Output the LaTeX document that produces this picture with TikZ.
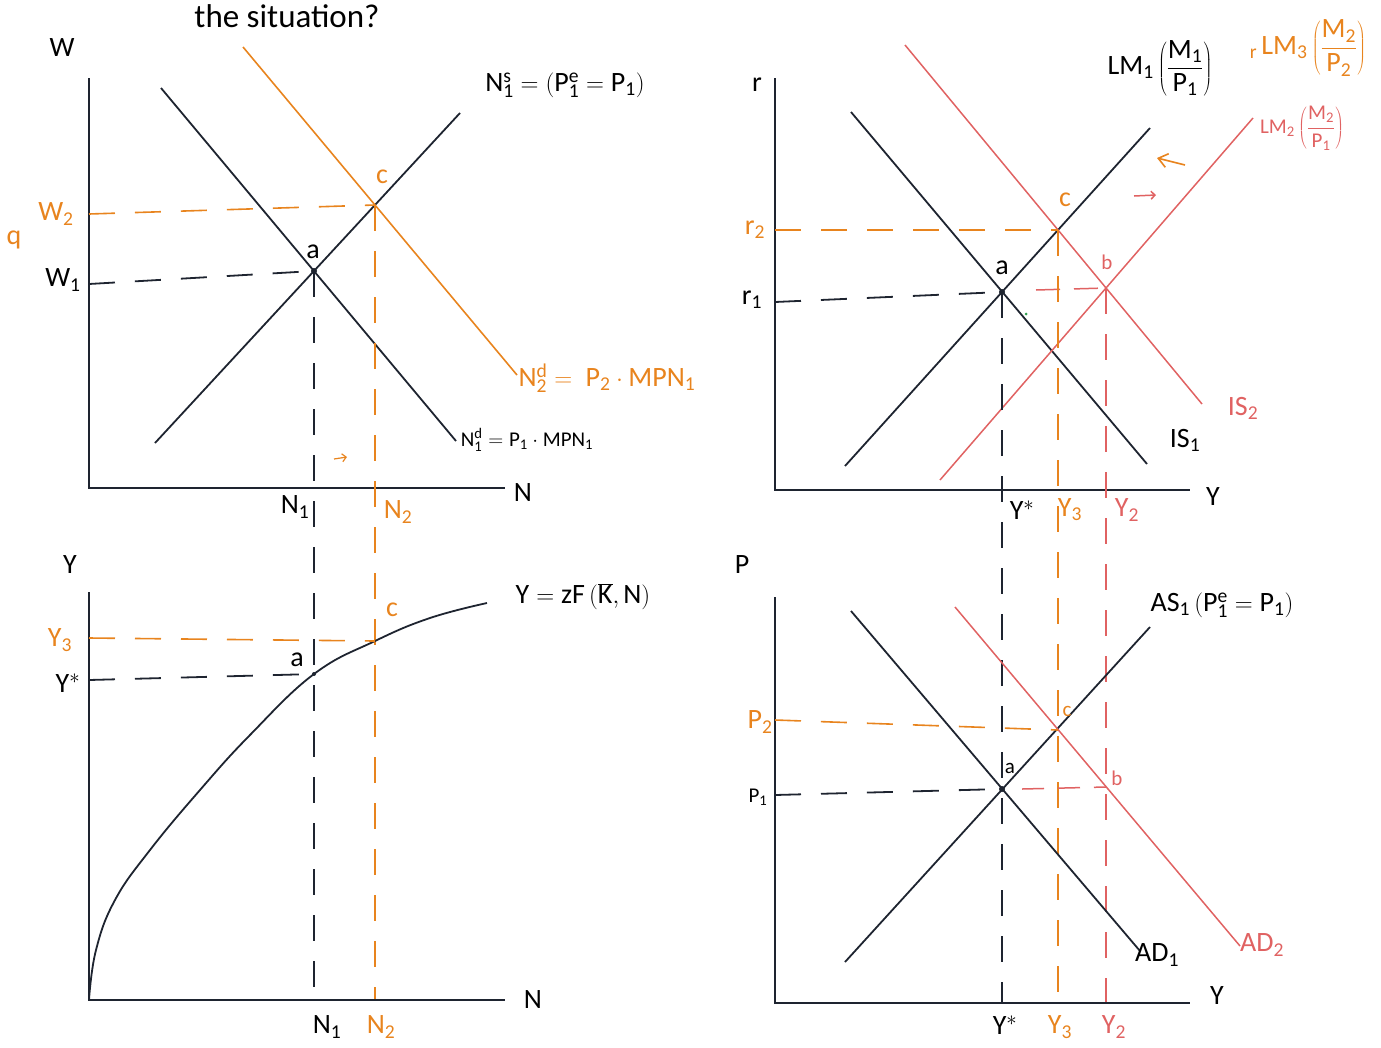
\documentclass[tikz,border=0pt]{standalone}
\usepackage{fontspec}
\setmainfont{Carlito}
\setsansfont{Carlito}
\usetikzlibrary{arrows.meta}
\definecolor{ink}{HTML}{1E2430}
\definecolor{org}{HTML}{E8841E}
\definecolor{rd}{HTML}{E06262}
\definecolor{grn}{HTML}{2E9E4E}
\newcommand{\hw}[1]{\ensuremath{\mathsf{#1}}}
\begin{document}
\begin{tikzpicture}[x=1pt,y=-1pt,
  axis/.style={ink,line width=2.2pt},
  bline/.style={ink,line width=1.8pt},
  oline/.style={org,line width=1.6pt},
  rline/.style={rd,line width=1.5pt},
  dsh/.style={dash pattern=on 26pt off 20pt},
  lab/.style={font=\fontsize{28}{30}\selectfont,inner sep=0pt},
  slab/.style={font=\fontsize{21}{23}\selectfont,inner sep=0pt},
  pt/.style={circle,fill=ink,inner sep=0pt,minimum size=6pt}]
\useasboundingbox (0,0) rectangle (1381,1047);

\node[font=\fontsize{33}{36}\selectfont] (title) at (287,16) {the situation?};

% ===== top-left: labour market =====
\coordinate (TLo) at (89,488); \coordinate (TLy) at (89,78); \coordinate (TLx) at (505,488);
\draw[axis] (TLy) -- (TLo) -- (TLx);
\coordinate (a1) at (314,271); \coordinate (c1) at (375,205);
\coordinate (ns1s) at (155,443); \coordinate (ns1e) at (460,113);
\coordinate (nd1s) at (161,88); \coordinate (nd1e) at (456,441);
\coordinate (nd2s) at (243,47); \coordinate (nd2e) at (517,375);
\draw[bline] (ns1s) -- (ns1e);
\draw[bline] (nd1s) -- (nd1e);
\draw[oline] (nd2s) -- (nd2e);
\coordinate (w1) at (89,284); \coordinate (w2) at (89,214);
\draw[bline,dsh] (w1) -- (a1);
\draw[oline,dsh] (w2) -- (c1);
\coordinate (n1b) at (314,1000); \coordinate (n2b) at (375,1000);
\draw[bline,dsh] (a1) -- (n1b);
\draw[oline,dsh] (c1) -- (n2b);
\node[pt] (pa1) at (a1) {};
\node[lab] (lW) at (62,48) {\hw{W}};
\node[lab,org] (lW2) at (56,214) {\hw{W_2}};
\node[lab,org] (lq) at (14,240) {\hw{q}};
\node[lab] (lW1) at (63,280) {\hw{W_1}};
\node[lab] (la1) at (313,252) {\hw{a}};
\node[lab,org] (lc1) at (382,177) {\hw{c}};
\node[lab] (lNs) at (565,85) {\hw{N^s_1 = \left(P^e_1 = P_1\right)}};
\node[lab,org] (lNd2) at (607,378) {\hw{N^d_2 = \ P_2\cdot MPN_1}};
\node[slab] (lNd1) at (527,440) {\hw{N^d_1 = P_1\cdot MPN_1}};
\node[lab] (lNx) at (523,493) {\hw{N}};
\node[lab] (lN1t) at (295,507) {\hw{N_1}};
\node[lab,org] (lN2t) at (398,512) {\hw{N_2}};
\coordinate (sa1) at (334,459); \coordinate (sa2) at (347,457);
\draw[org,line width=1.2pt,-{Straight Barb[length=4pt]}] (sa1) -- (sa2);

% ===== bottom-left: production function =====
\coordinate (BLo) at (89,1000); \coordinate (BLy) at (89,592); \coordinate (BLx) at (505,1000);
\draw[axis] (BLy) -- (BLo) -- (BLx);
\coordinate (a2) at (314,674); \coordinate (c2) at (375,641);
\draw[bline] plot[smooth,tension=0.7] coordinates {(89,1000) (96,950) (115,900) (150,850) (200,790) (250,735) (314,674) (375,641) (430,618) (487,603)};
\coordinate (ystar) at (89,680); \coordinate (y3) at (89,638);
\draw[bline,dsh] (ystar) -- (a2);
\draw[oline,dsh] (y3) -- (c2);
\node[pt,minimum size=4pt] (pa2) at (a2) {};
\node[lab] (lY) at (70,565) {\hw{Y}};
\node[lab,org] (lY3) at (60,640) {\hw{Y_3}};
\node[lab] (lYs) at (68,683) {\hw{Y^*}};
\node[lab] (la2) at (297,660) {\hw{a}};
\node[lab,org] (lc2) at (392,610) {\hw{c}};
\node[lab] (lYf) at (583,597) {\hw{Y = zF\left(\overline{K}, N\right)}};
\node[lab] (lNb) at (533,1000) {\hw{N}};
\node[lab] (lN1b) at (327,1027) {\hw{N_1}};
\node[lab,org] (lN2b) at (381,1027) {\hw{N_2}};

% ===== top-right: IS-LM =====
\coordinate (TRo) at (775,490); \coordinate (TRy) at (775,78); \coordinate (TRx) at (1190,490);
\draw[axis] (TRy) -- (TRo) -- (TRx);
\coordinate (a3) at (1002,292); \coordinate (c3) at (1058,230); \coordinate (b3) at (1106,288);
\coordinate (is1s) at (851,112); \coordinate (is1e) at (1147,464);
\coordinate (lm1s) at (845,466); \coordinate (lm1e) at (1150,128);
\coordinate (is2s) at (905,45); \coordinate (is2e) at (1202,404);
\coordinate (lm2s) at (940,480); \coordinate (lm2e) at (1253,118);
\draw[bline] (is1s) -- (is1e);
\draw[bline] (lm1s) -- (lm1e);
\draw[rline] (is2s) -- (is2e);
\draw[rline] (lm2s) -- (lm2e);
\coordinate (r2) at (775,230); \coordinate (r1) at (775,302);
\draw[oline,dsh] (r2) -- (c3);
\draw[bline,dsh] (r1) -- (a3);
\coordinate (ab3) at (1036,290);
\draw[rline,dash pattern=on 24pt off 14pt] (ab3) -- (b3);
\coordinate (a3b) at (1002,1003); \coordinate (c3b) at (1058,1003); \coordinate (b3b) at (1106,1003);
\draw[bline,dsh] (a3) -- (a3b);
\draw[oline,dsh] (c3) -- (c3b);
\draw[rline,dsh] (b3) -- (b3b);
\node[pt] (pa3) at (a3) {};
\node[circle,fill=grn,inner sep=0pt,minimum size=3pt] (gdot) at (1026,314) {};
\node[lab] (lr) at (757,85) {\hw{r}};
\node[lab,org] (lr2) at (755,230) {\hw{r_2}};
\node[lab] (lr1) at (752,300) {\hw{r_1}};
\node[lab] (la3) at (1002,268) {\hw{a}};
\node[lab,org] (lc3) at (1065,200) {\hw{c}};
\node[slab,rd] (lb3) at (1107,262) {\hw{b}};
\node[lab] (lLM1) at (1160,68) {\hw{LM_1\left(\displaystyle\frac{M_1}{P_1}\right)}};
\node[lab,org] (lLM3) at (1308,48) {\hw{_{r}\, LM_3\left(\displaystyle\frac{M_2}{P_2}\right)}};
\node[slab,rd] (lLM2) at (1302,128) {\hw{LM_2\left(\displaystyle\frac{M_2}{P_1}\right)}};
\coordinate (oa1) at (1185,165); \coordinate (oa2) at (1157,158);
\draw[org,line width=1.6pt,-{Straight Barb[length=9pt,width=14pt]}] (oa1) -- (oa2);
\coordinate (ra1) at (1134,196); \coordinate (ra2) at (1156,195);
\draw[rd,line width=1.5pt,-{Straight Barb[length=4pt]}] (ra1) -- (ra2);
\node[lab,rd] (lIS2) at (1243,408) {\hw{IS_2}};
\node[lab] (lIS1) at (1185,440) {\hw{IS_1}};
\node[lab] (lYr) at (1213,497) {\hw{Y}};
\node[lab] (lYst) at (1022,510) {\hw{Y^*}};
\node[lab,org] (lY3t) at (1070,510) {\hw{Y_3}};
\node[lab,rd] (lY2t) at (1127,510) {\hw{Y_2}};

% ===== bottom-right: AS-AD =====
\coordinate (BRo) at (775,1003); \coordinate (BRy) at (775,597); \coordinate (BRx) at (1190,1003);
\draw[axis] (BRy) -- (BRo) -- (BRx);
\coordinate (a4) at (1002,789); \coordinate (c4) at (1058,730); \coordinate (b4) at (1106,787);
\coordinate (ad1s) at (851,611); \coordinate (ad1e) at (1140,951);
\coordinate (as1s) at (845,962); \coordinate (as1e) at (1150,627);
\coordinate (ad2s) at (955,607); \coordinate (ad2e) at (1240,946);
\draw[bline] (ad1s) -- (ad1e);
\draw[bline] (as1s) -- (as1e);
\draw[rline] (ad2s) -- (ad2e);
\coordinate (p2) at (775,720); \coordinate (p1) at (775,795);
\draw[oline,dsh] (p2) -- (c4);
\draw[bline,dsh] (p1) -- (a4);
\coordinate (ab4) at (1022,789);
\draw[rline,dash pattern=on 22pt off 14pt] (ab4) -- (b4);
\node[pt] (pa4) at (a4) {};
\node[lab] (lP) at (742,565) {\hw{P}};
\node[lab] (lAS1) at (1222,605) {\hw{AS_1\left(P^e_1 = P_1\right)}};
\node[lab,org] (lP2) at (760,722) {\hw{P_2}};
\node[slab] (lP1) at (758,797) {\hw{P_1}};
\node[slab] (la4) at (1010,768) {\hw{a}};
\node[slab,org] (lc4) at (1067,711) {\hw{c}};
\node[slab,rd] (lb4) at (1117,778) {\hw{b}};
\node[lab] (lAD1) at (1157,955) {\hw{AD_1}};
\node[lab,rd] (lAD2) at (1262,945) {\hw{AD_2}};
\node[lab] (lYb) at (1217,996) {\hw{Y}};
\node[lab] (lYsb) at (1005,1025) {\hw{Y^*}};
\node[lab,org] (lY3b) at (1060,1027) {\hw{Y_3}};
\node[lab,rd] (lY2b) at (1114,1027) {\hw{Y_2}};
\end{tikzpicture}
\end{document}
